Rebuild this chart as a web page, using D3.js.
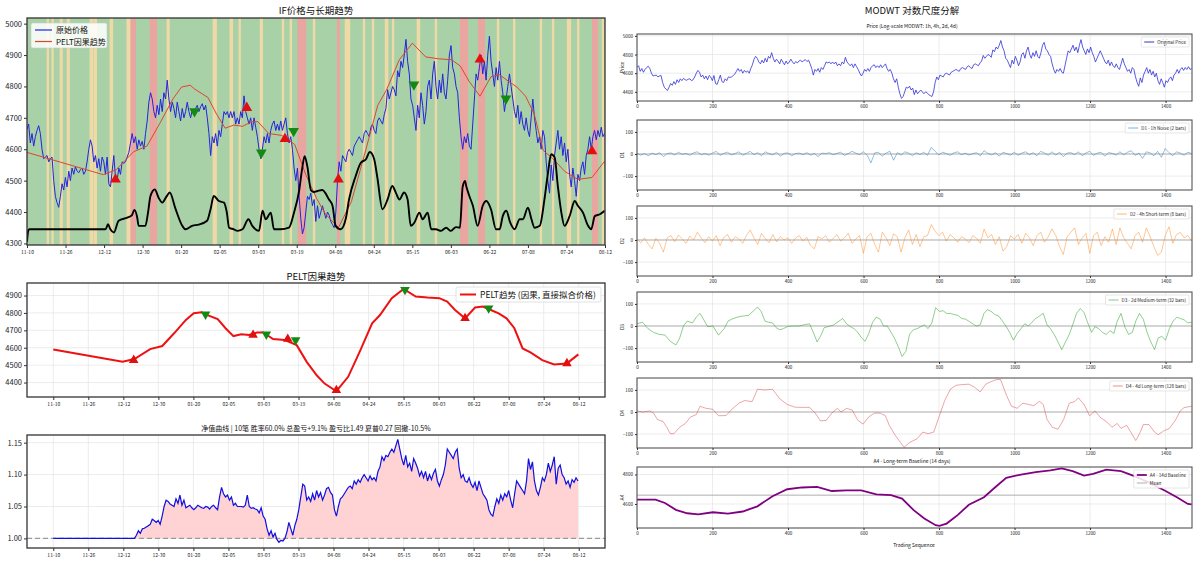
<!DOCTYPE html>
<html lang="zh">
<head>
<meta charset="UTF-8">
<title>IF PELT / MODWT</title>
<script src="https://cdn.jsdelivr.net/npm/d3@7"></script>
<style>
  body { margin: 0; background: #fff; }
  svg { display: block; }
  text { font-family: "Noto Sans CJK SC", "Noto Sans", sans-serif; }
</style>
</head>
<body>
<svg id="chart" width="1200" height="563"></svg>
<script>
// ---- data ----
const N = 1470;                       // bars
const tickStep = 98;                  // one date label every 98 bars
const dateLabels = ["11-10","11-26","12-12","12-30","01-20","02-05","03-03","03-19",
                    "04-08","04-24","05-15","06-03","06-22","07-08","07-24","08-12"];

// close price, evenly spaced over bars 0..N-1
const price = [
  4663,4680,4620,4650,4610,4640,4660,4675,4650,4600,
  4570,4575,4580,4560,4570,4575,4500,4450,4430,4415,
  4450,4490,4470,4510,4480,4530,4500,4540,4520,4545,
  4530,4525,4535,4540,4520,4530,4560,4600,4630,4610,
  4560,4580,4540,4570,4530,4575,4560,4520,4575,4490,
  4480,4530,4580,4510,4500,4540,4520,4560,4555,4560,
  4575,4590,4620,4650,4620,4640,4600,4630,4610,4625,
  4600,4650,4690,4750,4780,4760,4720,4700,4740,4710,
  4760,4720,4780,4760,4820,4760,4720,4750,4730,4700,
  4750,4720,4690,4730,4700,4720,4750,4720,4700,4725,
  4710,4730,4740,4720,4735,4745,4725,4740,4700,4650,
  4580,4640,4620,4650,4610,4660,4640,4680,4720,4710,
  4720,4700,4720,4700,4720,4680,4700,4680,4720,4700,
  4770,4720,4700,4680,4700,4660,4700,4670,4640,4600,
  4570,4600,4640,4620,4650,4620,4660,4680,4690,4660,
  4680,4660,4690,4660,4680,4700,4650,4620,4640,4600,
  4540,4500,4540,4450,4380,4330,4350,4400,4450,4440,
  4460,4420,4440,4370,4420,
  4380,4400,4420,4400,4380,4400,4390,4370,4360,4350,
  4400,4500,4560,4530,4580,4570,4560,4590,4600,4590,
  4580,4610,4620,4630,4640,4630,4620,4650,4660,4650,
  4640,4670,4680,4660,4650,4690,4700,4690,4680,4710,
  4730,4790,4760,4780,4800,4790,4770,4850,4830,4880,
  4860,4900,4950,4880,4840,4760,4740,4700,4660,4740,
  4700,4780,4740,4680,4720,4800,4820,4760,4840,4880,
  4800,4760,4820,4780,4840,4780,4760,4820,4900,4930,
  4860,4840,4800,4780,4700,4640,4600,4640,4620,4650,
  4610,4600,4680,4760,4840,4820,4860,4900,4840,4880,
  4820,4900,4960,4880,4840,4800,4860,4820,4880,4820,
  4780,4720,4760,4800,4840,4800,4760,4720,4700,4740,
  4680,4720,4680,4660,4700,4660,4640,4700,4760,4700,
  4660,4620,4640,4600,4660,4640,4560,4500,4460,4550,
  4500,4580,4620,4660,4600,4640,4580,4620,4560,4600,
  4520,4480,4540,4500,4450,4520,4500,4540,4560,4520,
  4580,4600,4640,4600,4640,4660,4630,4660,4640,4670,
  4640,4650
];

// PELT causal trend knots [bar, value]
const trend = [
  [0,4590],[194,4519],[227,4535],[271,4592],[305,4610],[338,4683],[371,4760],[393,4798],
  [415,4804],[426,4792],[460,4765],[482,4712],[504,4667],[526,4677],[548,4673],[570,4687],
  [587,4688],[615,4650],[648,4644],[681,4615],[709,4519],[737,4442],[759,4394],[792,4350],
  [825,4433],[858,4581],[892,4740],[914,4788],[947,4885],[980,4938],[1014,4894],[1047,4888],
  [1080,4885],[1102,4865],[1124,4817],[1152,4769],[1180,4831],[1202,4837],[1224,4817],
  [1246,4798],[1268,4769],[1290,4712],[1313,4596],[1335,4573],[1368,4529],[1401,4504],
  [1437,4510],[1469,4562]
];

// black indicator line in the price panel, in price units [bar, value]
const regimeLine = [
  [0,4305],[3,4340],[6,4345],[200,4345],[206,4361],[212,4345],[221,4335],[233,4372],[255,4382],
  [267,4390],[273,4407],[280,4385],[284,4356],[301,4356],[308,4400],[314,4451],[325,4472],
  [335,4445],[344,4430],[355,4450],[363,4462],[378,4409],[395,4356],[403,4345],[420,4356],
  [437,4360],[458,4372],[467,4410],[475,4451],[488,4435],[501,4430],[508,4400],[514,4350],
  [526,4345],[535,4340],[548,4345],[563,4377],[573,4356],[590,4340],[599,4404],[607,4377],
  [620,4398],[628,4345],[645,4345],[666,4350],[679,4398],[692,4467],[700,4540],[706,4578],
  [713,4545],[722,4470],[730,4464],[739,4467],[751,4470],[768,4440],[777,4420],[785,4356],
  [798,4345],[811,4380],[819,4440],[836,4515],[849,4557],[862,4568],[872,4591],[883,4568],
  [891,4510],[904,4409],[917,4440],[929,4483],[938,4462],[947,4440],[959,4462],[968,4440],
  [976,4356],[985,4366],[998,4398],[1006,4377],[1019,4398],[1028,4345],[1040,4345],
  [1053,4340],[1066,4350],[1078,4340],[1091,4352],[1101,4350],[1108,4480],[1114,4499],
  [1117,4483],[1125,4451],[1134,4420],[1146,4356],[1159,4420],[1168,4435],[1180,4409],
  [1193,4345],[1202,4345],[1210,4387],[1219,4404],[1229,4366],[1240,4345],[1253,4377],
  [1261,4377],[1274,4414],[1283,4377],[1291,4350],[1304,4356],[1316,4440],[1325,4525],
  [1333,4584],[1342,4574],[1350,4483],[1359,4398],[1367,4356],[1380,4387],[1393,4435],
  [1401,4420],[1414,4398],[1427,4356],[1435,4345],[1444,4387],[1457,4393],[1469,4404]
];

// regime shading, default green; [firstBar, lastBar, kind]
const regimeBands = [
  [50,55,"o"],[62,67,"o"],[83,90,"o"],[101,108,"o"],[159,167,"o"],[169,177,"o"],[210,218,"o"],
  [253,263,"o"],[263,276,"r"],[312,330,"r"],[355,362,"o"],[472,482,"o"],[515,523,"o"],
  [538,543,"o"],[592,599,"o"],[648,653,"o"],[668,673,"o"],[688,709,"r"],[727,732,"o"],
  [788,795,"r"],[808,821,"o"],[854,859,"o"],[877,882,"o"],[910,918,"o"],[928,933,"o"],
  [991,999,"o"],[1037,1042,"o"],[1101,1121,"r"],[1147,1164,"r"],[1195,1200,"o"],
  [1236,1241,"o"],[1304,1309,"o"],[1335,1340,"o"],[1373,1383,"o"],[1399,1404,"o"],
  [1437,1452,"r"],[1462,1467,"o"]
];

// signals
const buyBars   = [225, 559, 656, 792, 1152, 1437];
const buyPrice  = [4504, 4732, 4633, 4504, 4886, 4594];
const buyTrend  = [4529, 4673, 4650, 4356, 4769, 4510];
const sellBars  = [426, 596, 678, 984, 1218];
const sellPrice = [4721, 4589, 4658, 4806, 4761];
const sellTrend = [4792, 4677, 4644, 4933, 4827];

// equity curve: flat 1.0 until the first trade, then evenly spaced to the last bar
const equityStart = 227;
const equityEnd = 1468;
const equity = [
  1.000,
  1.005,1.012,1.008,1.015,1.016,1.018,1.020,1.022,1.030,1.028,
  1.025,1.028,1.022,1.035,1.050,1.060,1.058,1.054,1.052,1.050,
  1.062,1.055,1.068,1.052,1.060,1.048,1.050,1.052,1.048,1.045,
  1.048,1.052,1.050,1.048,1.047,1.050,1.049,1.046,1.050,1.052,
  1.048,1.045,1.065,1.080,1.070,1.065,1.068,1.060,1.065,1.052,
  1.055,1.050,1.050,1.050,1.049,1.052,1.068,1.050,1.047,1.048,
  1.046,1.045,1.040,1.048,1.035,1.030,1.015,1.005,1.012,1.002,
  1.008,0.998,0.994,0.997,0.996,1.000,1.010,1.025,1.015,1.005,
  1.020,1.030,1.045,1.065,1.085,1.082,1.060,1.065,1.058,1.070,
  1.060,1.075,1.065,1.072,1.060,1.068,1.078,1.080,1.072,1.068,
  1.045,1.035,1.050,1.062,1.065,1.070,1.075,1.080,1.082,1.078,
  1.090,1.085,1.092,1.088,1.095,1.100,1.095,1.090,1.098,1.092,
  1.095,1.090,1.105,1.112,1.128,1.122,1.130,1.128,1.135,1.140,
  1.135,1.145,1.155,1.140,1.125,1.115,1.130,1.112,1.118,1.105,
  1.125,1.118,1.110,1.098,1.105,1.095,1.105,1.090,1.100,1.092,
  1.102,1.108,1.090,1.082,1.092,1.100,1.115,1.140,1.135,1.130,
  1.125,1.135,1.140,1.110,1.095,1.100,1.090,1.088,1.095,1.085,
  1.080,1.088,1.075,1.090,1.080,1.070,1.065,1.060,1.045,1.038,
  1.035,1.050,1.062,1.055,1.068,1.060,1.070,1.065,1.075,1.060,
  1.048,1.070,1.090,1.085,1.080,1.075,1.070,1.090,1.125,1.108,
  1.120,1.090,1.075,1.068,1.080,1.095,1.090,1.100,1.118,1.105,
  1.115,1.128,1.085,1.110,1.115,1.100,1.095,1.085,1.090,1.080,
  1.092,1.088,1.095,1.090
];
const equityTitle = "净值曲线 | 10笔 胜率60.0% 总盈亏+9.1% 盈亏比1.49 夏普0.27 回撤-10.5%";

// MODWT details, evenly spaced over bars 0..N-1
const noise1h = [
  3,-5,2,-8,4,-3,6,-12,2,5, -4,8,-2,3,-6,5,10,-3,2,-5,
  4,12,-6,3,8,-4,2,10,-5,3, 12,-3,6,-8,10,2,-4,8,-10,3,
  5,-8,2,4,-3,6,-5,3,-12,4, 2,6,-4,3,8,-6,2,12,4,-3,
  10,-5,-40,5,8,-10,4,12,-28,6, -5,10,4,-8,6,-3,8,-6,30,12,
  -4,8,2,-6,5,10,-3,4,-5,2, 6,-8,15,3,-4,6,-10,8,2,-5,
  8,-6,4,10,-3,6,-8,12,4,-6, 10,-5,8,-12,4,6,-3,10,-8,5,
  12,-6,4,8,-10,6,3,-5,10,-4, 8,15,-6,4,-20,10,5,-8,12,-15,
  25,6,-8,10,4,-6,8,2
];
const short4h = [
  5,-12,10,-20,-40,8,-15,-55,10,20, -8,22,5,-15,18,0,35,10,-12,15,
  -5,20,-25,12,25,-10,15,5,-15,20, 45,10,-20,30,5,-12,25,-8,15,0,
  10,-15,8,20,-5,12,-25,-40,15,5, 20,-10,8,25,-5,10,30,-15,5,20,
  -60,15,30,-20,-55,35,10,-25,28,15, -55,10,45,-20,25,-30,15,20,70,40,
  20,35,-5,25,10,-10,15,5,-12,20, 8,-15,50,10,25,-20,15,-50,-30,20,
  5,25,-15,30,10,-25,20,35,-10,15, 50,20,-30,-65,15,35,55,-20,10,30,
  -60,20,35,-25,15,-10,50,-20,55,10, -15,-40,20,35,-10,55,15,-30,-70,-55,
  20,60,-15,25,35,10,20,-5
];
// [bar, value]
const medium2d = [
  [0,10],[15,17],[29,-12],[44,-29],[59,-38],[74,-41],[88,-69],[103,-86],[113,-55],[123,0],
  [133,22],[147,14],[157,40],[167,57],[177,28],[187,-3],[201,0],[216,-41],[231,-12],[241,22],
  [251,31],[265,40],[280,45],[295,48],[309,69],[319,86],[329,66],[339,22],[349,17],[359,14],
  [368,-7],[378,-17],[388,-12],[398,-3],[408,0],[418,0],[427,0],[437,3],[447,7],[457,10],
  [467,-29],[477,-72],[486,-47],[496,-7],[506,-3],[521,5],[535,22],[545,34],[555,10],[565,-3],
  [575,-12],[585,-29],[594,-52],[604,-69],[614,-34],[624,17],[634,40],[644,31],[653,0],[663,0],
  [673,-29],[683,-59],[693,-98],[702,-138],[712,-115],[722,-38],[732,-17],[742,-12],[752,-3],
  [761,5],[771,-12],[781,14],[791,83],[801,66],[811,69],[820,57],[830,57],[840,52],[850,48],
  [860,34],[870,31],[879,22],[889,10],[899,0],[909,5],[919,57],[928,74],[938,66],[948,52],
  [958,45],[968,22],[978,-3],[987,-29],[997,-64],[1007,-34],[1017,-12],[1027,10],[1037,0],
  [1046,17],[1056,34],[1066,45],[1076,57],[1086,5],[1095,-12],[1105,-38],[1115,-72],[1125,-107],
  [1135,-72],[1145,-38],[1154,5],[1164,57],[1174,79],[1184,62],[1194,14],[1204,-29],[1213,-3],
  [1223,-12],[1233,-29],[1243,-38],[1253,-21],[1263,-34],[1272,22],[1282,57],[1292,-3],
  [1302,-38],[1312,-29],[1321,22],[1331,57],[1341,31],[1351,-29],[1361,-72],[1371,-107],
  [1380,-55],[1390,-47],[1400,-64],[1410,-12],[1420,22],[1430,40],[1439,34],[1449,28],
  [1459,14],[1469,17]
];
const long4d = [
  [0,5],[15,0],[34,5],[44,-5],[54,-34],[69,-43],[79,-69],[88,-98],[98,-98],[113,-69],
  [128,-52],[142,-22],[157,-12],[167,26],[182,17],[201,12],[216,-17],[236,-16],[251,12],
  [270,40],[285,52],[305,47],[319,103],[339,100],[359,103],[378,60],[398,34],[418,22],
  [437,21],[457,21],[472,-5],[486,-40],[501,-38],[516,-5],[531,17],[540,0],[555,16],
  [570,9],[585,-38],[599,-55],[614,-22],[629,-5],[644,-5],[658,-17],[668,-60],[683,-103],
  [698,-138],[707,-160],[722,-138],[742,-121],[757,-91],[771,-98],[786,-91],[801,-17],
  [815,52],[830,103],[845,121],[860,124],[879,126],[894,112],[909,91],[924,126],[938,138],
  [953,147],[963,147],[978,78],[992,26],[1007,17],[1022,40],[1037,34],[1051,29],[1066,48],
  [1076,34],[1086,-34],[1100,-69],[1115,-78],[1130,-34],[1145,40],[1159,47],[1169,64],
  [1184,34],[1199,-17],[1213,5],[1228,-26],[1243,-43],[1258,-69],[1272,-52],[1282,-74],
  [1297,-60],[1312,-103],[1321,-129],[1331,-98],[1341,-57],[1356,-57],[1371,-91],
  [1380,-103],[1395,-86],[1410,-74],[1425,-40],[1439,5],[1449,20],[1469,26]
];
const baseline14d = [
  [0,4630],[49,4630],[74,4607],[103,4560],[133,4537],[162,4530],[201,4544],[241,4535],
  [280,4549],[319,4584],[359,4653],[398,4700],[437,4712],[477,4716],[516,4688],[555,4693],
  [594,4693],[634,4665],[673,4660],[702,4637],[732,4560],[761,4502],[791,4456],[801,4451],
  [820,4467],[850,4526],[879,4595],[919,4646],[948,4712],[978,4777],[1017,4800],[1056,4816],
  [1095,4828],[1125,4842],[1154,4823],[1184,4793],[1208,4805],[1243,4833],[1282,4823],
  [1321,4786],[1361,4740],[1400,4688],[1430,4646],[1459,4600],[1469,4598]
];
const baselineMean = 4660;
const seqTicks = [0, 200, 400, 600, 800, 1000, 1200, 1400];

// ---- helpers ----
const svg = d3.select("#chart");
const FONT = '"Noto Sans CJK SC", "Noto Sans", sans-serif';
const intFmt = d3.format("d");
let clipId = 0;

function addPanel(x, y) {
  return svg.append("g").attr("transform", `translate(${x},${y})`);
}
function addClip(w, h) {
  const id = "clip" + (clipId++);
  svg.append("clipPath").attr("id", id).append("rect").attr("width", w).attr("height", h);
  return `url(#${id})`;
}
function evenly(values, start, end) {
  return values.map((v, i) => [start + i * (end - start) / (values.length - 1), v]);
}
function styleAxis(a, fs) {
  a.attr("font-family", FONT);
  a.select(".domain").remove();
  a.selectAll("text").attr("font-size", fs).attr("fill", "#222");
  a.selectAll("line").attr("stroke", "#333");
}
function frame(g, w, h, color, sw) {
  g.append("rect").attr("width", w).attr("height", h)
    .attr("fill", "none").attr("stroke", color).attr("stroke-width", sw);
}
function text(x, y, str, fs, anchor) {
  return svg.append("text").attr("x", x).attr("y", y).attr("font-size", fs)
    .attr("text-anchor", anchor || "middle").attr("fill", "#111").text(str);
}
function grid(g, xs, ys, xScale, yScale, w, h) {
  g.append("g").selectAll("line").data(xs).join("line")
    .attr("x1", d => xScale(d)).attr("x2", d => xScale(d)).attr("y1", 0).attr("y2", h)
    .attr("stroke", "#e4e4e4").attr("stroke-width", 0.7);
  g.append("g").selectAll("line").data(ys).join("line")
    .attr("y1", d => yScale(d)).attr("y2", d => yScale(d)).attr("x1", 0).attr("x2", w)
    .attr("stroke", "#e4e4e4").attr("stroke-width", 0.7);
}
function markers(g, bars, vals, xs, ys, up, size) {
  g.selectAll(null).data(bars).join("path")
    .attr("d", d3.symbol(d3.symbolTriangle, size))
    .attr("transform", (d, i) => `translate(${xs(d)},${ys(vals[i])})${up ? "" : " rotate(180)"}`)
    .attr("fill", up ? "#e01010" : "#138a13");
}
const dateTickBars = dateLabels.map((d, i) => i * tickStep);

// ---- left column ----
const L = { x: 27, w: 578 };

// panel 1: price + trend with regime shading
const p1 = { y: 18, h: 227 };
text(316, 14, "IF价格与长期趋势", 9.5);
const g1 = addPanel(L.x, p1.y);
const x1 = d3.scaleLinear().domain([0, N]).range([0, L.w]);
const y1 = d3.scaleLinear().domain([4295, 5018]).range([p1.h, 0]);
g1.append("rect").attr("width", L.w).attr("height", p1.h).attr("fill", "#a9d1a7");
const bandFill = { o: "#efd9a6", r: "#e9a6a1" };
g1.selectAll("rect.band").data(regimeBands).join("rect").attr("class", "band")
  .attr("x", d => x1(d[0])).attr("width", d => x1(d[1] + 1) - x1(d[0]))
  .attr("y", 0).attr("height", p1.h).attr("fill", d => bandFill[d[2]]);
const c1 = g1.append("g").attr("clip-path", addClip(L.w, p1.h));
const line1 = d3.line().x(d => x1(d[0])).y(d => y1(d[1]));
c1.append("path").datum(evenly(price, 0, N - 1)).attr("d", line1)
  .attr("fill", "none").attr("stroke", "#2424dc").attr("stroke-width", 1);
c1.append("path").datum(trend).attr("d", line1)
  .attr("fill", "none").attr("stroke", "#e0442c").attr("stroke-width", 1);
c1.append("path").datum(regimeLine)
  .attr("d", d3.line().x(d => x1(d[0])).y(d => y1(d[1])).curve(d3.curveMonotoneX))
  .attr("fill", "none").attr("stroke", "#000").attr("stroke-width", 1.9);
markers(g1, buyBars, buyPrice, x1, y1, true, 50);
markers(g1, sellBars, sellPrice, x1, y1, false, 50);
// legend
const lg1 = g1.append("g").attr("transform", "translate(4,5)");
lg1.append("rect").attr("width", 76).attr("height", 25).attr("rx", 2)
  .attr("fill", "#fff").attr("fill-opacity", 0.85).attr("stroke", "#ccc").attr("stroke-width", 0.6);
[["原始价格", "#2424dc"], ["PELT因果趋势", "#e0442c"]].forEach((e, i) => {
  lg1.append("line").attr("x1", 4).attr("x2", 21).attr("y1", 7 + i * 11.5).attr("y2", 7 + i * 11.5)
    .attr("stroke", e[1]).attr("stroke-width", 1.2);
  lg1.append("text").attr("x", 25).attr("y", 10 + i * 11.5).attr("font-size", 8).attr("fill", "#111").text(e[0]);
});
frame(g1, L.w, p1.h, "#333", 1.3);
styleAxis(g1.append("g").call(d3.axisLeft(y1).tickValues(d3.range(4300, 5001, 100)).tickFormat(intFmt).tickSize(3).tickPadding(2)), 7.5);
styleAxis(g1.append("g").attr("transform", `translate(0,${p1.h})`)
  .call(d3.axisBottom(x1).tickValues(dateTickBars).tickFormat((d, i) => dateLabels[i]).tickSize(3).tickPadding(2)), 5);

// panel 2: PELT trend
const p2 = { y: 283, h: 114 };
text(316, 280, "PELT因果趋势", 9.5);
const g2 = addPanel(L.x, p2.y);
const x2 = d3.scaleLinear().domain([-73.5, N + 73.5]).range([0, L.w]);
const y2 = d3.scaleLinear().domain([4317, 4972]).range([p2.h, 0]);
const y2ticks = d3.range(4400, 4901, 100);
grid(g2, dateTickBars, y2ticks, x2, y2, L.w, p2.h);
g2.append("path").datum(trend).attr("d", d3.line().x(d => x2(d[0])).y(d => y2(d[1])))
  .attr("fill", "none").attr("stroke", "#ee1111").attr("stroke-width", 2);
markers(g2, buyBars, buyTrend, x2, y2, true, 40);
markers(g2, sellBars, sellTrend, x2, y2, false, 40);
const lg2 = g2.append("g").attr("transform", "translate(429,4)");
lg2.append("rect").attr("width", 145).attr("height", 15).attr("rx", 2)
  .attr("fill", "#fff").attr("fill-opacity", 0.85).attr("stroke", "#ccc").attr("stroke-width", 0.6);
lg2.append("line").attr("x1", 4).attr("x2", 20).attr("y1", 7.5).attr("y2", 7.5)
  .attr("stroke", "#ee1111").attr("stroke-width", 2);
lg2.append("text").attr("x", 24).attr("y", 10.5).attr("font-size", 8.5).attr("fill", "#111")
  .text("PELT趋势 (因果, 直接拟合价格)");
frame(g2, L.w, p2.h, "#333", 1.3);
styleAxis(g2.append("g").call(d3.axisLeft(y2).tickValues(y2ticks).tickFormat(intFmt).tickSize(3).tickPadding(2)), 7.5);
styleAxis(g2.append("g").attr("transform", `translate(0,${p2.h})`)
  .call(d3.axisBottom(x2).tickValues(dateTickBars).tickFormat((d, i) => dateLabels[i]).tickSize(3).tickPadding(2)), 5);

// panel 3: equity
const p3 = { y: 435, h: 113 };
text(316, 431, equityTitle, 7);
const g3 = addPanel(L.x, p3.y);
const y3 = d3.scaleLinear().domain([0.985, 1.162]).range([p3.h, 0]);
const y3ticks = [1.00, 1.05, 1.10, 1.15];
grid(g3, dateTickBars, y3ticks, x2, y3, L.w, p3.h);
const eqSeries = [[0, 1.0]].concat(evenly(equity, equityStart, equityEnd));
g3.append("path").datum(eqSeries)
  .attr("d", d3.area().x(d => x2(d[0])).y0(y3(1.0)).y1(d => y3(d[1])))
  .attr("fill", "#ffd3d3");
g3.append("line").attr("x1", 0).attr("x2", L.w).attr("y1", y3(1.0)).attr("y2", y3(1.0))
  .attr("stroke", "#9a9a9a").attr("stroke-width", 1.3).attr("stroke-dasharray", "5,3");
g3.append("path").datum(eqSeries).attr("d", d3.line().x(d => x2(d[0])).y(d => y3(d[1])))
  .attr("fill", "none").attr("stroke", "#1010e0").attr("stroke-width", 1.2);
frame(g3, L.w, p3.h, "#333", 1.3);
styleAxis(g3.append("g").call(d3.axisLeft(y3).tickValues(y3ticks).tickFormat(d3.format(".2f")).tickSize(3).tickPadding(2)), 7.5);
styleAxis(g3.append("g").attr("transform", `translate(0,${p3.h})`)
  .call(d3.axisBottom(x2).tickValues(dateTickBars).tickFormat((d, i) => dateLabels[i]).tickSize(3).tickPadding(2)), 5);

// ---- right column: MODWT decomposition ----
const R = { x: 637, w: 555 };
text(912, 14, "MODWT 对数尺度分解", 9.5);
text(912, 28, "Price (Log-scale MODWT: 1h, 4h, 2d, 4d)", 5);
const xr = d3.scaleLinear().domain([0, N]).range([0, R.w]);
const rows = [
  { top: 34, h: 67, data: evenly(price, 0, N - 1), dom: [4302, 5020], ticks: [4400, 4600, 4800, 5000],
    color: "#3030d8", sw: 0.8, op: 1, label: "Price", legend: [["Original Price", "#3030d8", 1]] },
  { top: 120, h: 70, data: evenly(noise1h, 0, N - 1), dom: [-163, 154], ticks: [-100, 0, 100],
    color: "#1f77b4", sw: 0.6, op: 0.8, label: "D1", zero: true, legend: [["D1 - 1h Noise (2 bars)", "#7fb0d6", 1]] },
  { top: 206, h: 70, data: evenly(short4h, 0, N - 1), dom: [-163, 154], ticks: [-100, 0, 100],
    color: "#ff7f0e", sw: 0.6, op: 0.75, label: "D2", zero: true, legend: [["D2 - 4h Short-term (8 bars)", "#f8b87c", 1]] },
  { top: 292, h: 70, data: medium2d, dom: [-163, 154], ticks: [-100, 0, 100],
    color: "#2ca02c", sw: 0.7, op: 0.75, label: "D3", zero: true, legend: [["D3 - 2d Medium-term (32 bars)", "#86c886", 1]] },
  { top: 378, h: 70, data: long4d, dom: [-163, 154], ticks: [-100, 0, 100],
    color: "#d62728", sw: 0.7, op: 0.6, label: "D4", zero: true, legend: [["D4 - 4d Long-term (128 bars)", "#e89090", 1]] },
  { top: 467, h: 61, data: baseline14d, dom: [4437, 4851], ticks: [4600, 4800],
    color: "#800080", sw: 1.8, op: 1, label: "A4", mean: baselineMean,
    legend: [["A4 - 14d Baseline", "#800080", 1.8], ["Mean", "#999", 0.8]] }
];
text(912, 463, "A4 - Long-term Baseline (14 days)", 5);

rows.forEach(r => {
  const g = addPanel(R.x, r.top);
  const y = d3.scaleLinear().domain(r.dom).range([r.h, 0]);
  grid(g, seqTicks, r.ticks, xr, y, R.w, r.h);
  if (r.zero) {
    g.append("line").attr("x1", 0).attr("x2", R.w).attr("y1", y(0)).attr("y2", y(0))
      .attr("stroke", "#999").attr("stroke-width", 0.7);
  }
  if (r.mean) {
    g.append("line").attr("x1", 0).attr("x2", R.w).attr("y1", y(r.mean)).attr("y2", y(r.mean))
      .attr("stroke", "#999").attr("stroke-width", 0.8);
  }
  g.append("g").attr("clip-path", addClip(R.w, r.h)).append("path").datum(r.data)
    .attr("d", d3.line().x(d => xr(d[0])).y(d => y(d[1])))
    .attr("fill", "none").attr("stroke", r.color).attr("stroke-width", r.sw).attr("stroke-opacity", r.op);
  // legend, top right
  const lg = g.append("g");
  const box = lg.append("rect").attr("fill", "#fff").attr("fill-opacity", 0.85)
    .attr("stroke", "#ccc").attr("stroke-width", 0.5).attr("rx", 1);
  let maxW = 0;
  r.legend.forEach((e, i) => {
    lg.append("line").attr("x1", 3).attr("x2", 13).attr("y1", 5 + i * 8).attr("y2", 5 + i * 8)
      .attr("stroke", e[1]).attr("stroke-width", e[2]);
    const t = lg.append("text").attr("x", 16).attr("y", 6.8 + i * 8).attr("font-size", 4.6)
      .attr("fill", "#222").text(e[0]);
    maxW = Math.max(maxW, t.node().getComputedTextLength());
  });
  const bw = maxW + 19, bh = r.legend.length * 8 + 2;
  box.attr("width", bw).attr("height", bh);
  lg.attr("transform", `translate(${R.w - bw - 3},3)`);
  frame(g, R.w, r.h, "#555", 1.1);
  styleAxis(g.append("g").call(d3.axisLeft(y).tickValues(r.ticks).tickFormat(intFmt).tickSize(2).tickPadding(2)), 4.6);
  styleAxis(g.append("g").attr("transform", `translate(0,${r.h})`)
    .call(d3.axisBottom(xr).tickValues(seqTicks).tickFormat(intFmt).tickSize(2).tickPadding(2)), 4.6);
  svg.append("text").attr("transform", `translate(624,${r.top + r.h / 2}) rotate(-90)`)
    .attr("text-anchor", "middle").attr("font-size", 5).attr("fill", "#222").text(r.label);
});
text(914, 547, "Trading Sequence", 5);
</script>
</body>
</html>
